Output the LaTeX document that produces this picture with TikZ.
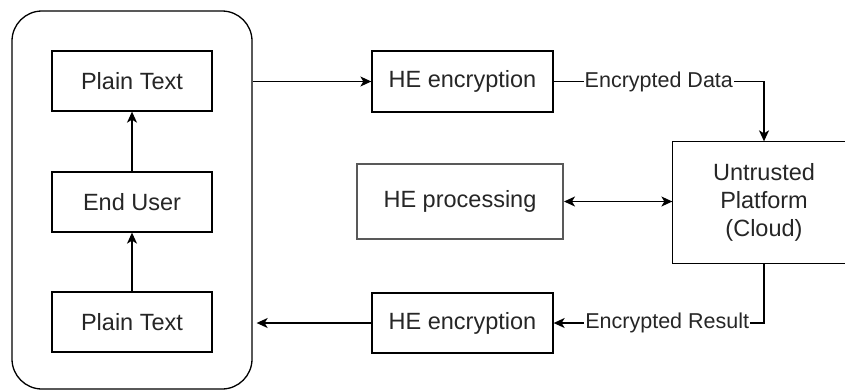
\documentclass[tikz,border=0pt]{standalone}
\usepackage{fontspec}
\setmainfont{Liberation Sans}
\usetikzlibrary{arrows.meta}

\tikzset{
  box/.style={draw=black, line width=1.3pt, fill=white, inner sep=0pt, align=center,
              text=black!85, font=\fontsize{23.5}{28.2}\selectfont},
  wire/.style={line width=1.3pt, draw=black},
  tip/.style={-{Stealth[length=11pt,width=10pt,inset=3pt]}},
  bitip/.style={{Stealth[length=11pt,width=10pt,inset=3pt]}-{Stealth[length=11pt,width=10pt,inset=3pt]}},
  lbl/.style={fill=white, inner sep=1pt, text=black!85, font=\fontsize{21.5}{25}\selectfont}
}

\begin{document}
\begin{tikzpicture}[x=1pt,y=-1pt]
  \useasboundingbox (0,0) rectangle (845,391);
  \clip (0,0) rectangle (845,391);

  % client side container
  \node[box, rounded corners=30pt, minimum width=240pt, minimum height=378pt] (client) at (132,200) {};
  \node[box, minimum width=160pt, minimum height=60pt] (ptop) at (132,81) {Plain Text};
  \node[box, minimum width=160pt, minimum height=60pt] (user) at (132,202) {End User};
  \node[box, minimum width=160pt, minimum height=60pt] (pbot) at (132,322) {Plain Text};

  % encryption / processing stages
  \node[box, minimum width=181pt, minimum height=61pt] (encA) at (462.5,81.5) {HE encryption};
  \node[box, minimum width=181pt, minimum height=60pt] (encB) at (462.5,323) {HE encryption};
  \node[box, draw=black!65, line width=2pt, minimum width=206pt, minimum height=75pt] (proc) at (460,201.5) {HE processing};

  % cloud platform: its right side runs past the frame edge
  \node[box, draw=none, minimum width=182pt, minimum height=121pt] (cloud) at (764,202.5) {Untrusted\\Platform\\(Cloud)};
  \draw[wire] ([xshift=40pt]cloud.north east) -- (cloud.north west)
      -- (cloud.south west) -- ([xshift=40pt]cloud.south east);

  % flows inside the client
  \draw[wire, tip] (pbot.north) -- (user.south);
  \draw[wire, tip] (user.north) -- (ptop.south);

  % outgoing path
  \draw[wire, tip] (client.east |- encA.west) -- (encA.west);
  \draw[wire, tip] (encA.east) -- (cloud.north |- encA.east)
      node[lbl, pos=0.5] {Encrypted Data} -- (cloud.north);

  % processing exchange
  \draw[wire, bitip] (proc.east) -- (cloud.west |- proc.east);

  % returning path
  \draw[wire, tip] (cloud.south) -- (cloud.south |- encB.east)
      -- (encB.east) node[lbl, pos=0.46] {Encrypted Result};
  \draw[wire, tip, shorten >=4pt] (encB.west) -- (client.east |- encB.west);
\end{tikzpicture}
\end{document}
